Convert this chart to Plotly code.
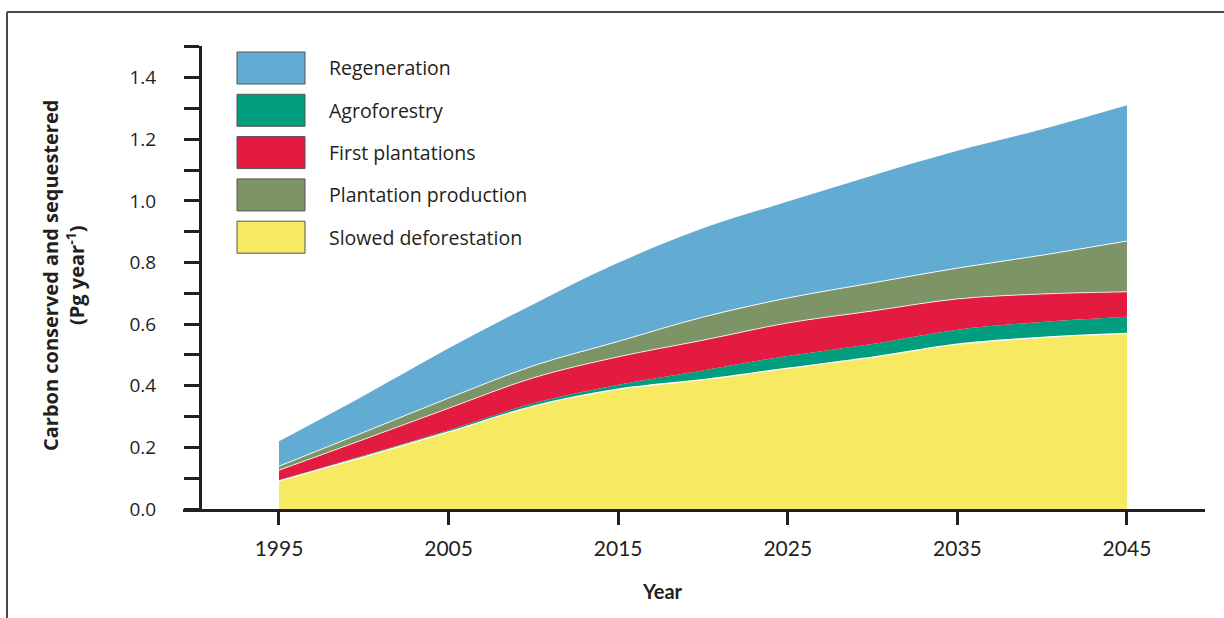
import plotly.graph_objects as go

# ---- data ----
years = [1995, 2000, 2005, 2010, 2015, 2020, 2025, 2030, 2035, 2040, 2045]
slowed_deforestation = [0.091, 0.169, 0.250, 0.334, 0.389, 0.420, 0.457, 0.493, 0.535, 0.557, 0.570]
agroforestry = [0.003, 0.005, 0.006, 0.009, 0.014, 0.030, 0.040, 0.043, 0.047, 0.050, 0.054]
first_plantations = [0.032, 0.052, 0.071, 0.083, 0.091, 0.098, 0.107, 0.107, 0.100, 0.091, 0.081]
plantation_production = [0.013, 0.023, 0.033, 0.039, 0.050, 0.075, 0.081, 0.091, 0.100, 0.126, 0.165]
regeneration = [0.081, 0.119, 0.162, 0.200, 0.255, 0.288, 0.313, 0.349, 0.381, 0.409, 0.441]

x_tick_vals = [1995, 2005, 2015, 2025, 2035, 2045]
x_tick_labels = ["1995", "2005", "2015", "2025", "2035", "2045"]
y_tick_vals = [0.0, 0.2, 0.4, 0.6, 0.8, 1.0, 1.2, 1.4]
y_tick_labels = ["0.0", "0.2", "0.4", "0.6", "0.8", "1.0", "1.2", "1.4"]
y_minor_vals = [0.1, 0.3, 0.5, 0.7, 0.9, 1.1, 1.3, 1.5]

# stacking order (bottom -> top)
series = [
    ("Slowed deforestation", slowed_deforestation, "#F8E962", "white", 1.3),
    ("Agroforestry", agroforestry, "#009E7F", "#009E7F", 0),
    ("First plantations", first_plantations, "#E31B41", "white", 0.8),
    ("Plantation production", plantation_production, "#7C9466", "white", 0.9),
    ("Regeneration", regeneration, "#62ABD3", "#62ABD3", 0),
]
# legend order (top -> bottom)
legend_order = ["Regeneration", "Agroforestry", "First plantations",
                "Plantation production", "Slowed deforestation"]

INK = "#231F20"
SANS = "Open Sans, Lato, sans-serif"
W, H = 1224, 618
L, R, T, B = 183, 19, 46, 109
PW, PH = W - L - R, H - T - B


def px(x):
    return (x - L) / PW


def py(y):
    return (H - B - y) / PH


fig = go.Figure()
for name, vals, fillc, linec, lw in series:
    fig.add_trace(go.Scatter(
        x=years, y=vals, name=name, stackgroup="one", mode="lines",
        line=dict(color=linec, width=lw, shape="spline", smoothing=1.0),
        fillcolor=fillc, showlegend=False,
    ))

shapes = [
    # outer frame (top and left)
    dict(type="line", xref="paper", yref="paper", x0=px(7), x1=px(1224), y0=py(12), y1=py(12),
         line=dict(color="#4a4a4a", width=2)),
    dict(type="line", xref="paper", yref="paper", x0=px(7), x1=px(7), y0=py(12), y1=py(618),
         line=dict(color="#4a4a4a", width=2)),
]
annotations = []
colors = {s[0]: s[2] for s in series}
for i, name in enumerate(legend_order):
    top = 52 + i * 42.3
    shapes.append(dict(type="rect", xref="paper", yref="paper",
                       x0=px(237), x1=px(305), y0=py(top + 32), y1=py(top),
                       fillcolor=colors[name], line=dict(color="#555555", width=1)))
    annotations.append(dict(xref="paper", yref="paper", x=px(327), y=py(top + 16),
                            text=name, showarrow=False, xanchor="left", yanchor="middle",
                            font=dict(family=SANS, size=19.5, color=INK)))

annotations.append(dict(xref="paper", yref="paper", x=px(63), y=py(276),
                        text="<b>Carbon conserved and sequestered<br>(Pg year<sup>-1</sup>)</b>",
                        textangle=-90, showarrow=False, xanchor="center", yanchor="middle",
                        font=dict(family=SANS, size=20, color=INK)))
annotations.append(dict(xref="paper", yref="paper", x=px(662), y=py(591),
                        text="<b>Year</b>", showarrow=False, xanchor="center", yanchor="middle",
                        font=dict(family="Lato, sans-serif", size=20, color=INK)))

fig.update_layout(
    width=W, height=H,
    margin=dict(l=L, r=R, t=T, b=B, pad=0),
    paper_bgcolor="white", plot_bgcolor="white",
    showlegend=False,
    shapes=shapes, annotations=annotations,
    xaxis=dict(
        range=[1989.34, 2049.6], showgrid=False, zeroline=False,
        showline=True, linecolor=INK, linewidth=3,
        tickmode="array", tickvals=x_tick_vals, ticktext=x_tick_labels,
        ticks="outside", ticklen=13, tickwidth=2.5, tickcolor=INK,
        ticklabelstandoff=6,
        tickfont=dict(family="Lato, sans-serif", size=21, color=INK),
    ),
    yaxis=dict(
        range=[0, 1.503], showgrid=False, zeroline=False,
        anchor="free", position=px(200),
        showline=True, linecolor=INK, linewidth=3,
        tickmode="array", tickvals=y_tick_vals, ticktext=y_tick_labels,
        ticks="outside", ticklen=15, tickwidth=3, tickcolor=INK,
        ticklabelstandoff=24,
        tickfont=dict(family=SANS, size=19, color=INK),
        minor=dict(tickmode="array", tickvals=y_minor_vals, ticks="outside",
                   ticklen=15, tickwidth=3, tickcolor=INK, showgrid=False),
    ),
)

fig.write_html("out.html",
               config={"displayModeBar": False},
               post_script="document.body.style.margin='0px';document.body.style.overflow='hidden';")
